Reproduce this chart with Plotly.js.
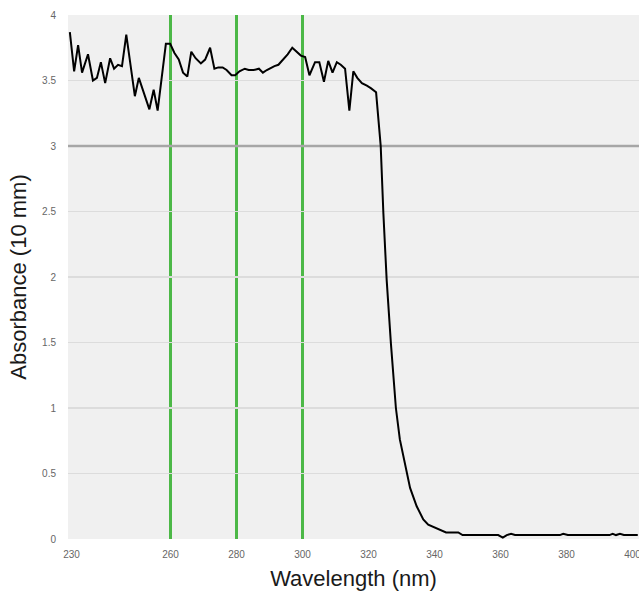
<!DOCTYPE html>
<html>
<head>
<meta charset="utf-8">
<script src="https://cdn.plot.ly/plotly-3.0.1.min.js"></script>
<style>html,body{margin:0;padding:0;background:#fff;}#chart{width:639px;height:591px;}</style>
</head>
<body>
<div id="chart"></div>
<script>
// Wavelength (nm)
const wavelength = [229.5,230.8,232.0,233.2,235.0,236.5,237.7,238.9,240.2,241.7,242.9,244.1,245.3,246.6,249.2,250.4,253.6,254.9,256.1,258.6,259.9,261.2,262.5,263.8,265.1,266.3,267.6,269.2,270.5,272.0,273.3,274.5,275.8,277.0,278.5,279.6,280.9,282.5,283.7,285.2,286.8,288.0,289.2,290.5,291.5,292.7,294.4,295.5,296.9,298.2,299.5,300.8,302.1,303.8,305.1,306.5,307.8,309.1,310.4,311.6,312.9,314.2,315.4,316.6,318.0,319.5,320.8,322.3,323.7,324.5,325.5,326.8,328.3,329.5,330.8,332.6,334.6,336.6,338.1,340.7,343.5,347.2,348.5,359.3,360.7,361.9,363.2,364.4,378.0,379.0,380.4,393.0,394.0,395.0,396.2,397.4,401.6];
// Absorbance (10 mm)
const absorbance = [3.87,3.57,3.77,3.56,3.70,3.50,3.52,3.64,3.48,3.67,3.59,3.62,3.61,3.85,3.38,3.52,3.28,3.43,3.27,3.78,3.78,3.71,3.66,3.56,3.53,3.72,3.67,3.63,3.66,3.75,3.59,3.60,3.60,3.58,3.54,3.54,3.57,3.59,3.58,3.58,3.59,3.56,3.58,3.60,3.61,3.62,3.67,3.70,3.75,3.72,3.69,3.68,3.54,3.64,3.64,3.49,3.65,3.56,3.64,3.62,3.59,3.27,3.57,3.52,3.48,3.46,3.44,3.41,3.00,2.49,1.98,1.49,1.00,0.76,0.60,0.39,0.25,0.15,0.11,0.08,0.05,0.05,0.03,0.03,0.01,0.03,0.04,0.03,0.03,0.04,0.03,0.03,0.04,0.03,0.04,0.03,0.03];
// Marked wavelengths (green lines) and reference absorbance level (grey line)
const markedWavelengths = [260, 280, 300];
const referenceLevel = 3;
// Axis ticks
const xTicks = [230, 260, 280, 300, 320, 340, 360, 380, 400];
const xTickLabels = ["230", "260", "280", "300", "320", "340", "360", "380", "400"];
const yTicks = [0, 0.5, 1, 1.5, 2, 2.5, 3, 3.5, 4];
const yTickLabels = ["0", "0.5", "1", "1.5", "2", "2.5", "3", "3.5", "4"];

const xRange = [228.94, 401.97];

const shapes = markedWavelengths.map(w => ({
  type: 'line', xref: 'x', yref: 'paper', x0: w, x1: w, y0: 0, y1: 1,
  line: {color: '#4cb847', width: 3}, layer: 'between'
}));

const refTrace = {
  x: xRange, y: [referenceLevel, referenceLevel], type: 'scatter', mode: 'lines',
  line: {color: '#a6a6a6', width: 2.5}, hoverinfo: 'skip', cliponaxis: true
};

const trace = {
  x: wavelength, y: absorbance, type: 'scatter', mode: 'lines',
  line: {color: '#000000', width: 2}, hoverinfo: 'skip'
};

const layout = {
  width: 639, height: 591,
  margin: {l: 68, r: 0, t: 15, b: 52},
  paper_bgcolor: '#ffffff',
  plot_bgcolor: '#f0f0f0',
  showlegend: false,
  font: {family: 'Liberation Sans, Arial, sans-serif', color: '#666666', size: 10},
  xaxis: {
    range: xRange,
    tickmode: 'array', tickvals: xTicks, ticktext: xTickLabels,
    showgrid: false, zeroline: false, showline: false,
    ticks: 'outside', ticklen: 6, tickcolor: 'rgba(0,0,0,0)',
    ticklabeloverflow: 'allow',
    tickfont: {size: 10, color: '#666666'},
    title: {text: 'Wavelength (nm)', font: {size: 22, color: '#1a1a1a'}, standoff: 12}
  },
  yaxis: {
    range: [0, 4],
    tickmode: 'array', tickvals: yTicks, ticktext: yTickLabels,
    showgrid: true, gridcolor: '#dcdcdc', gridwidth: 1.5,
    zeroline: false, showline: false,
    ticks: 'outside', ticklen: 9, tickcolor: 'rgba(0,0,0,0)',
    tickfont: {size: 10, color: '#666666'},
    title: {text: 'Absorbance (10 mm)', font: {size: 22, color: '#1a1a1a'}, standoff: 9}
  },
  shapes: shapes
};

Plotly.newPlot('chart', [refTrace, trace], layout, {displayModeBar: false, staticPlot: true});
</script>
</body>
</html>
